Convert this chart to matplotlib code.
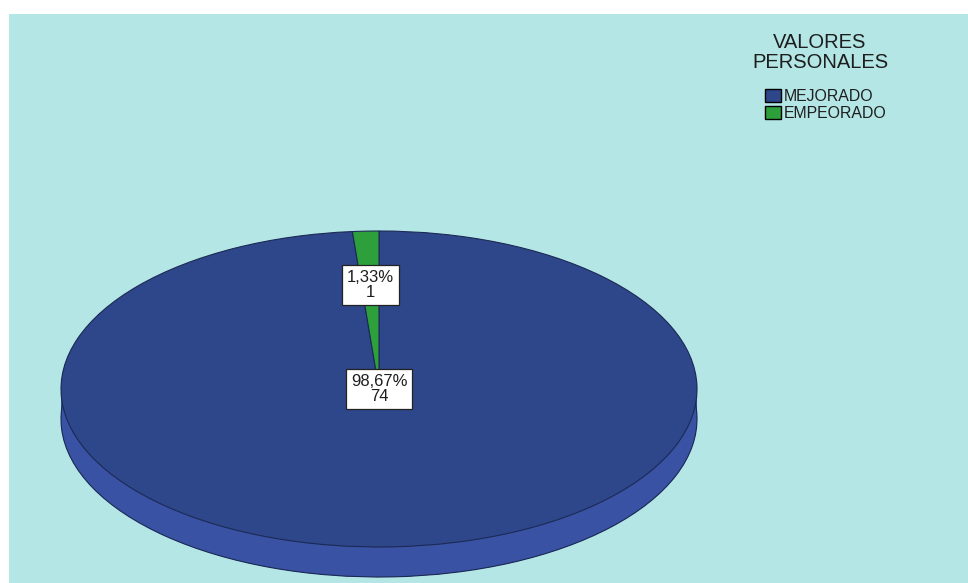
import numpy as np
import matplotlib
matplotlib.use("Agg")
import matplotlib.pyplot as plt

plt.rcParams['font.family'] = ['Liberation Sans', 'DejaVu Sans']

# data
categories = ['MEJORADO', 'EMPEORADO']
counts = [74, 1]
pct_labels = ['98,67%', '1,33%']
legend_title = 'VALORES\nPERSONALES'

# styling
bg_color = '#b4e6e6'
top_colors = ['#2e468a', '#2da03c']
side_colors = ['#3952a3', '#278a35']
edge_color = '#1b2a55'
text_color = '#1e1e1e'
label_radius = [0.0, 0.66]
depth = 0.19

W, H = 968, 583
fig = plt.figure(figsize=(W / 100, H / 100), dpi=100)
fig.patch.set_facecolor('white')

# cyan background panel
bg = fig.add_axes([9 / W, 0, (W - 9) / W, (H - 14) / H])
bg.set_facecolor(bg_color)
bg.set_xticks([])
bg.set_yticks([])
for s in bg.spines.values():
    s.set_visible(False)

# pie axes (ellipse = stretched unit circle)
left, right = 61, 697
top, bottom = 231, 577
ax = fig.add_axes([left / W, (H - bottom) / H, (right - left) / W, (bottom - top) / H])
ax.patch.set_alpha(0)

# side of the 3D pie: stack of offset pies
for off in np.linspace(-depth, -0.005, 40):
    ax.pie(counts, colors=side_colors, startangle=90, counterclock=False,
           center=(0, off), wedgeprops=dict(linewidth=0))
ax.pie(counts, colors=side_colors, startangle=90, counterclock=False,
       center=(0, -depth), wedgeprops=dict(linewidth=0.8, edgecolor=edge_color))

# top face
wedges, _ = ax.pie(counts, colors=top_colors, startangle=90, counterclock=False,
                   wedgeprops=dict(linewidth=0.8, edgecolor=edge_color))

ax.set_aspect('auto')
ax.set_xlim(-1, 1)
ax.set_ylim(-1 - depth, 1)
ax.axis('off')

for w, pct, n, r in zip(wedges, pct_labels, counts, label_radius):
    mid = np.deg2rad((w.theta1 + w.theta2) / 2)
    ax.text(r * np.cos(mid), r * np.sin(mid), f'{pct}\n{n}', ha='center', va='center',
            fontsize=12, linespacing=1.0, color=text_color,
            bbox=dict(boxstyle='square,pad=0.3', facecolor='white',
                      edgecolor='#222222', linewidth=0.9))

# legend title and entries
fig.text(820 / W, 1 - 33 / H, legend_title, ha='center', va='top',
         fontsize=14.5, linespacing=1.08, color=text_color)

leg = fig.legend(wedges, categories, loc='upper left',
                 bbox_to_anchor=(757 / W, 1 - 81 / H), frameon=False,
                 fontsize=11.4, borderpad=0, labelcolor=text_color,
                 handlelength=1.0, handleheight=0.9, handletextpad=0.2,
                 labelspacing=0.12)
for h in leg.legend_handles:
    h.set_edgecolor('black')
    h.set_linewidth(1.0)

fig.savefig('out.png', dpi=100)
